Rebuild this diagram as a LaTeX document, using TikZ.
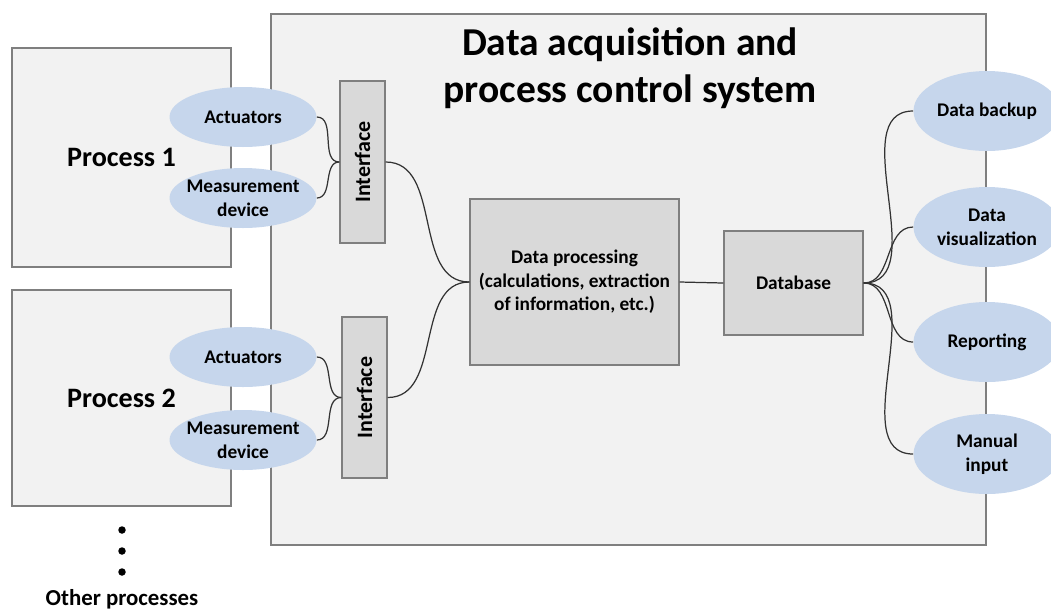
\documentclass[tikz,border=0pt]{standalone}
\usepackage{fontspec}
\setmainfont{Carlito}
\usepackage{xcolor}
\usetikzlibrary{shapes.geometric}
\definecolor{frame}{HTML}{7F7F7F}
\definecolor{paper}{HTML}{F2F2F2}
\definecolor{block}{HTML}{D9D9D9}
\definecolor{oval}{HTML}{C6D6EC}

\begin{document}
\begin{tikzpicture}[x=0.02cm,y=-0.02cm,%
% common options for the big frames:
frame/.style = {draw=frame, fill=paper, line width=1.4pt, align=center,
            inner sep=0, font=\fontsize{16}{19}\selectfont\bfseries},
% common options for blocks:
block/.style = {draw=frame, fill=block, line width=0.8pt, align=center,
            inner sep=0, font=\fontsize{11}{13.4}\selectfont\bfseries},
% common options for the ellipses:
ball/.style = {ellipse, fill=oval, align=center, inner xsep=-0.15cm, inner ysep=0,
            minimum width=2.94cm, minimum height=1.2cm,
            font=\fontsize{11}{13.6}\selectfont\bfseries},
link/.style = {draw=black!80, line width=0.7pt}]
\useasboundingbox (0,0) rectangle (1051,610);
% system and processes
\node[frame,minimum width=14.3cm,minimum height=10.62cm] (S0) at (628.5,279.5) {};
\node[font=\fontsize{22.5}{26.7}\selectfont\bfseries,align=center] (S1) at (630,68) {Data acquisition and\\process control system};
\node[frame,minimum width=4.38cm,minimum height=4.38cm] (P1) at (121.5,157.5) {Process 1};
\node[frame,minimum width=4.38cm,minimum height=4.32cm] (P2) at (121.5,398) {Process 2};
% ellipses on the left
\node[ball] (A1) at (243,117) {Actuators};
\node[ball] (M1) at (243,198) {Measurement\\device};
\node[ball] (A2) at (243,357) {Actuators};
\node[ball] (M2) at (243,440) {Measurement\\device};
% interfaces (rotated: north is on the left)
\node[block,rotate=90,minimum width=3.24cm,minimum height=0.9cm,font=\fontsize{12.5}{15}\selectfont\bfseries] (I1) at (362.5,162) {Interface};
\node[block,rotate=90,minimum width=3.22cm,minimum height=0.9cm,font=\fontsize{12.5}{15}\selectfont\bfseries] (I2) at (364.5,397.5) {Interface};
\node[block,minimum width=4.18cm,minimum height=3.32cm] (D0) at (574.5,282) {Data processing\\(calculations, extraction\\of information, etc.)};
\node[block,minimum width=2.78cm,minimum height=2.08cm] (D1) at (793.5,283) {Database};
% ellipses on the right
\node[ball,minimum height=1.6cm] (R1) at (987,111) {Data backup};
\node[ball,minimum height=1.6cm] (R2) at (987,227) {Data\\visualization};
\node[ball,minimum height=1.6cm] (R3) at (987,342) {Reporting};
\node[ball,minimum height=1.6cm] (R4) at (987,454) {Manual\\input};
% other processes
\node[circle,fill=black,inner sep=0,minimum size=0.15cm] (O1) at (122,530) {};
\node[circle,fill=black,inner sep=0,minimum size=0.15cm] (O2) at (122,551) {};
\node[circle,fill=black,inner sep=0,minimum size=0.15cm] (O3) at (122,572) {};
\node[font=\fontsize{13}{15}\selectfont\bfseries] (O4) at (122,599) {Other processes};
\draw[link] (A1.east) to[out=0,in=180] (I1.north);
\draw[link] (M1.east) to[out=0,in=180] (I1.north);
\draw[link] (A2.east) to[out=0,in=180] (I2.north);
\draw[link] (M2.east) to[out=0,in=180] (I2.north);
\draw[link] (I1.south) to[out=0,in=180] (D0.west);
\draw[link] (I2.south) to[out=0,in=180] (D0.west);
\draw[link] (D0.east) -- (D1.west);
\draw[link] (D1.east) to[out=0,in=180] (R1.west);
\draw[link] (D1.east) to[out=0,in=180] (R2.west);
\draw[link] (D1.east) to[out=0,in=180] (R3.west);
\draw[link] (D1.east) to[out=0,in=180] (R4.west);
\end{tikzpicture}
\end{document}
